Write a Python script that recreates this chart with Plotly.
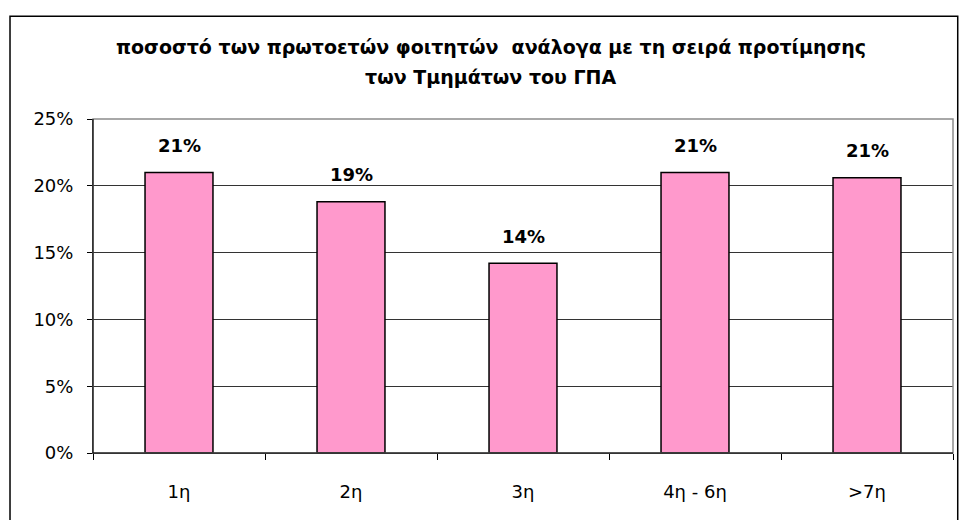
import plotly.graph_objects as go

categories = ["1η", "2η", "3η", "4η - 6η", ">7η"]
shares = [0.210, 0.188, 0.142, 0.210, 0.206]
y_ticks = [0, 0.05, 0.10, 0.15, 0.20, 0.25]
title_lines = ["ποσοστό των πρωτοετών φοιτητών  ανάλογα με τη σειρά προτίμησης",
               "των Τμημάτων του ΓΠΑ"]

FONT = "DejaVu Sans, Liberation Sans, Arial, sans-serif"

fig = go.Figure()
fig.add_trace(go.Bar(
    x=categories, y=shares,
    marker=dict(color="#FF99CC", line=dict(color="#000000", width=1.5)),
    hoverinfo="skip",
))

for c, v in zip(categories, shares):
    fig.add_annotation(x=c, y=v, text="<b>%d%%</b>" % round(v * 100),
                       showarrow=False, yshift=27,
                       font=dict(family=FONT, size=18, color="#000000"))

# title, two lines
for txt, ty in zip(title_lines, [1.2156, 1.1257]):
    fig.add_annotation(xref="paper", yref="paper", x=0.463, y=ty,
                       text="<b>" + txt + "</b>", showarrow=False,
                       xanchor="center", yanchor="middle",
                       font=dict(family=FONT, size=19, color="#000000"))

fig.update_layout(
    width=960, height=520,
    margin=dict(l=93, r=7, t=119, b=67),
    paper_bgcolor="#FFFFFF", plot_bgcolor="#FFFFFF",
    bargap=0.605,
    showlegend=False,
    font=dict(family=FONT, size=18, color="#000000"),
)

fig.update_xaxes(
    type="category", showgrid=False, showline=True, linecolor="#000000", linewidth=1,
    ticks="outside", tickson="boundaries", ticklen=6, tickcolor="#000000",
    ticklabelstandoff=22,
    tickfont=dict(family=FONT, size=18, color="#000000"),
)
fig.update_yaxes(
    range=[0, 0.25], tickvals=y_ticks, tickformat=".0%",
    showgrid=True, gridcolor="#333333", gridwidth=1,
    showline=True, linecolor="#000000", linewidth=1,
    ticks="outside", ticklen=5, tickcolor="#000000",
    ticklabelstandoff=10, zeroline=False,
    tickfont=dict(family=FONT, size=18, color="#000000"),
)

# plot-area border (gray)
fig.add_shape(type="rect", xref="paper", yref="paper", x0=0, x1=1, y0=0, y1=1,
              line=dict(color="#8C8C8C", width=1.5), layer="above")
# left and bottom axis in black over the border
fig.add_shape(type="line", xref="paper", yref="paper", x0=0, x1=0, y0=0, y1=1,
              line=dict(color="#000000", width=1), layer="above")
fig.add_shape(type="line", xref="paper", yref="paper", x0=0, x1=1, y0=0, y1=0,
              line=dict(color="#000000", width=1), layer="above")
# outer chart frame
fig.add_shape(type="rect", xref="paper", yref="paper",
              x0=-0.0965, x1=1.0055, y0=-0.35, y1=1.308,
              line=dict(color="#000000", width=1.5))

fig.write_html("out.html", config={"displayModeBar": False},
               post_script="document.body.style.margin='0';")
